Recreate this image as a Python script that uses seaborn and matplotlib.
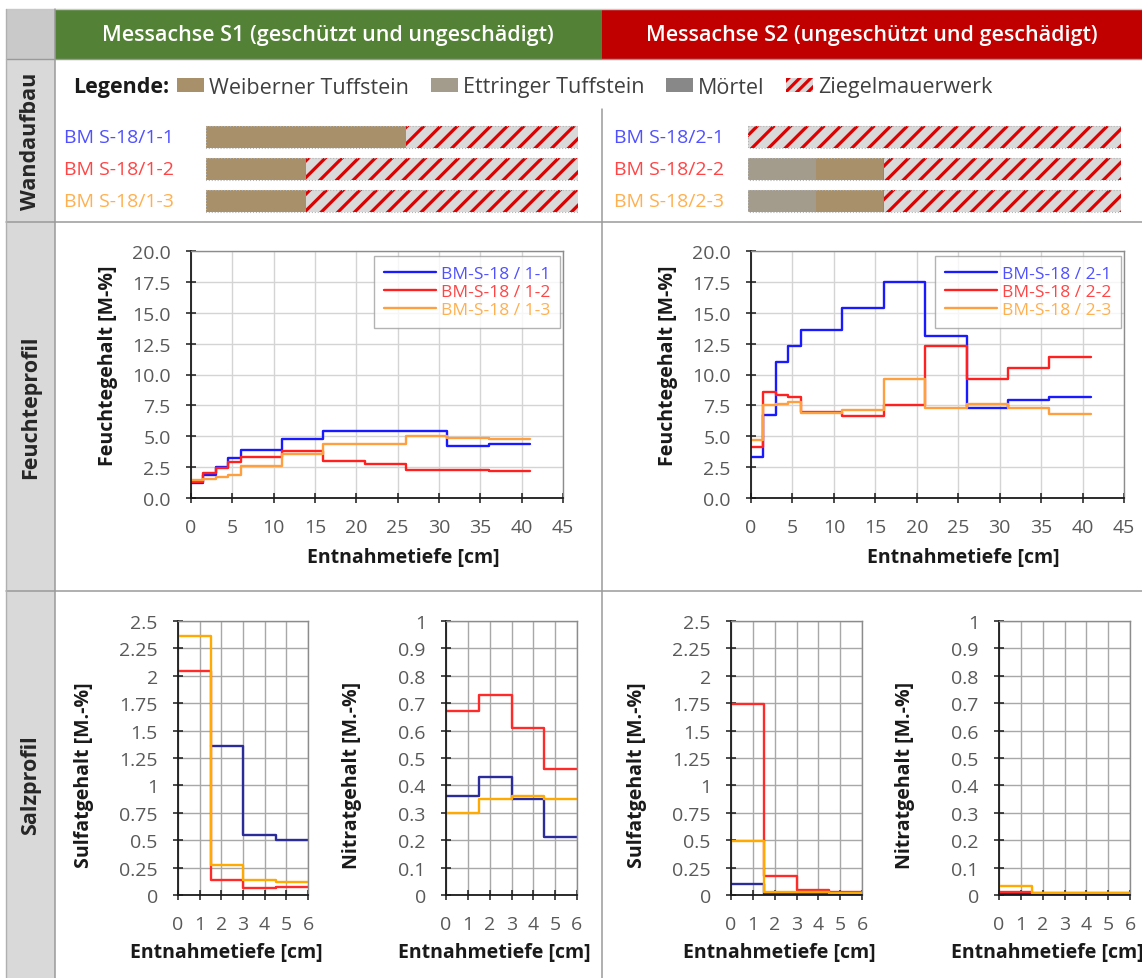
import numpy as np
import pandas as pd
import matplotlib
matplotlib.use("Agg")
import matplotlib.pyplot as plt
import seaborn as sns
from matplotlib.patches import Rectangle, Patch
from matplotlib.lines import Line2D
import matplotlib.transforms as mtransforms

# ---------------- data ----------------
depth_edges = [0, 1.5, 3, 4.5, 6, 11, 16, 21, 26, 31, 36, 41]
moist_s1_1 = [1.2, 1.9, 2.5, 3.2, 3.9, 4.8, 5.45, 5.4, 5.4, 4.2, 4.35]
moist_s1_2 = [1.3, 2.0, 2.4, 2.9, 3.35, 3.8, 3.0, 2.75, 2.25, 2.3, 2.15]
moist_s1_3 = [1.45, 1.55, 1.7, 1.85, 2.6, 3.6, 4.35, 4.35, 5.0, 4.85, 4.8]
moist_s2_1 = [3.3, 6.7, 11.0, 12.3, 13.6, 15.4, 17.5, 13.1, 7.3, 7.9, 8.2]
moist_s2_2 = [4.1, 8.6, 8.3, 8.2, 7.0, 6.6, 7.5, 12.3, 9.6, 10.5, 11.4]
moist_s2_3 = [4.7, 7.5, 7.6, 7.8, 6.9, 7.1, 9.6, 7.3, 7.6, 7.3, 6.8]
moist_labels_s1 = ["BM-S-18 / 1-1", "BM-S-18 / 1-2", "BM-S-18 / 1-3"]
moist_labels_s2 = ["BM-S-18 / 2-1", "BM-S-18 / 2-2", "BM-S-18 / 2-3"]

salt_edges = [0, 1.5, 3, 4.5, 6]
sulf_s1_1 = [np.nan, 1.36, 0.55, 0.50]
sulf_s1_2 = [2.04, 0.14, 0.06, 0.07]
sulf_s1_3 = [2.36, 0.27, 0.14, 0.12]
nitr_s1_1 = [0.36, 0.43, 0.35, 0.21]
nitr_s1_2 = [0.67, 0.73, 0.61, 0.46]
nitr_s1_3 = [0.30, 0.35, 0.36, 0.35]
sulf_s2_1 = [0.10, 0.01, 0.01, 0.01]
sulf_s2_2 = [1.74, 0.17, 0.05, 0.025]
sulf_s2_3 = [0.49, 0.03, 0.03, 0.02]
nitr_s2_1 = [0.002, 0.002, 0.002, 0.002]
nitr_s2_2 = [0.01, 0.006, 0.006, 0.006]
nitr_s2_3 = [0.032, 0.008, 0.008, 0.008]

wall_rows_s1 = ["BM S-18/1-1", "BM S-18/1-2", "BM S-18/1-3"]
wall_rows_s2 = ["BM S-18/2-1", "BM S-18/2-2", "BM S-18/2-3"]
# layer thickness [cm] in order: Ettringer, Weiberner, Moertel, Ziegel
s1_ettringer = [0, 0, 0]
s1_weiberner = [22, 11, 11]
s1_moertel = [0, 0, 0]
s1_ziegel = [19, 30, 30]
s2_ettringer = [0, 7.5, 7.5]
s2_weiberner = [0, 7.3, 7.3]
s2_moertel = [0, 0.2, 0.2]
s2_ziegel = [41, 26, 26]

legend_materials = ["Weiberner Tuffstein", "Ettringer Tuffstein", "Mörtel", "Ziegelmauerwerk"]
header_s1 = "Messachse S1 (geschützt und ungeschädigt)"
header_s2 = "Messachse S2 (ungeschützt und geschädigt)"
row_titles = ["Wandaufbau", "Feuchteprofil", "Salzprofil"]

# ---------------- style ----------------
sns.set_theme(style="white")
plt.rcParams["font.family"] = ["Open Sans", "DejaVu Sans"]
plt.rcParams["hatch.linewidth"] = 2.3

W, H = 1142, 979
fig = plt.figure(figsize=(W / 100, H / 100), dpi=100)
fig.patch.set_facecolor("white")

C_BLUE, C_RED, C_ORANGE = "#1a1aff", "#ff2020", "#ffa040"
C_NAVY, C_SRED, C_SORANGE = "#2b2b9a", "#ff2a2a", "#ffaa00"
T_BLUE, T_RED, T_ORANGE = "#5050ff", "#ff4545", "#ffb050"
WEIB, ETTR, MOERT, ZBG, ZRED = "#a8906a", "#a39b8c", "#888888", "#d9d9d9", "#dd0000"
TICKC = "#595959"
FS_TICK = 14
FS_LAB = 14


def axes_px(x0, y0, x1, y1, **kw):
    return fig.add_axes([x0 / W, 1 - y1 / H, (x1 - x0) / W, (y1 - y0) / H], **kw)


# ---------------- table background ----------------
bg = fig.add_axes([0, 0, 1, 1], zorder=-5)
bg.set_xlim(0, W)
bg.set_ylim(H, 0)
bg.axis("off")
bg.add_patch(Rectangle((6, 10), 49, 50, fc="#c9c9c9", ec="none"))
bg.add_patch(Rectangle((6, 60), 49, H - 60, fc="#d9d9d9", ec="none"))
bg.add_patch(Rectangle((55, 10), 547, 50, fc="#538135", ec="none"))
bg.add_patch(Rectangle((602, 10), W - 602, 50, fc="#c00000", ec="none"))
lc = "#9a9a9a"
bg.plot([6, W], [9.5, 9.5], color="#c8c8c8", lw=1)
bg.plot([6, W], [60, 60], color=lc, lw=1)
bg.plot([6, W], [222.5, 222.5], color=lc, lw=1.1)
bg.plot([6, W], [591.5, 591.5], color=lc, lw=1.1)
bg.plot([55, 55], [10, H], color=lc, lw=1.1)
bg.plot([602, 602], [110, H], color=lc, lw=1.1)
bg.plot([6, 6], [10, H], color="#b0b0b0", lw=1)

bg.text(328, 36, header_s1, color="white", ha="center", va="center", fontsize=15.5, weight="semibold")
bg.text(872, 36, header_s2, color="white", ha="center", va="center", fontsize=15.5, weight="semibold")
for title, yc in zip(row_titles, [141, 407, 785]):
    bg.text(31, yc, title, rotation=90, ha="center", va="center", fontsize=15.5,
            weight="bold", color="#262626")

# ---------------- wall structure ----------------
fig.text(73 / W, 1 - 88 / H, "Legende:", weight="bold", fontsize=15.5, va="center", ha="left",
         color="#1a1a1a")
mat_handles = [
    Patch(facecolor=WEIB, edgecolor="none"),
    Patch(facecolor=ETTR, edgecolor="none"),
    Patch(facecolor=MOERT, edgecolor="none"),
    Patch(facecolor=ZBG, edgecolor=ZRED, hatch="///", lw=0),
]
fig.legend(mat_handles, legend_materials, loc="center left", bbox_to_anchor=(177 / W, 1 - 88 / H),
           ncol=4, frameon=False, fontsize=15.5, handlelength=1.25, handleheight=0.6,
           handletextpad=0.25, columnspacing=1.0, labelcolor="#404040", borderaxespad=0,
           borderpad=0)

row_colors = [T_BLUE, T_RED, T_ORANGE]


def draw_wall(x0, x1, rows, ett, weib, moert, ziegel, label_x):
    ax = axes_px(x0, 122, x1, 218)
    ypos = np.arange(len(rows))
    left = np.zeros(len(rows))
    for vals, kw in [
        (ett, dict(color=ETTR, lw=0)),
        (weib, dict(color=WEIB, lw=0)),
        (moert, dict(color=MOERT, lw=0)),
        (ziegel, dict(facecolor=ZBG, edgecolor=ZRED, hatch="//", lw=0)),
    ]:
        vals = np.asarray(vals, dtype=float)
        ax.barh(ypos, vals, left=left, height=0.7, **kw)
        left = left + vals
    ax.barh(ypos, left, height=0.7, fill=False, edgecolor="#b5b5b5", lw=0.8, ls=":")
    ax.set_xlim(0, left.max())
    ax.set_ylim(len(rows) - 0.5, -0.5)
    ax.axis("off")
    trans = mtransforms.blended_transform_factory(fig.transFigure, ax.transData)
    for i, (name, c) in enumerate(zip(rows, row_colors)):
        fig.text(label_x / W, i, name, transform=trans, color=c, fontsize=14, va="center", ha="left")


draw_wall(206, 578, wall_rows_s1, s1_ettringer, s1_weiberner, s1_moertel, s1_ziegel, 64)
draw_wall(748, 1121, wall_rows_s2, s2_ettringer, s2_weiberner, s2_moertel, s2_ziegel, 614)


# ---------------- helpers for step charts ----------------
def draw_steps(ax, edges, values, color, lw):
    y = list(values) + [values[-1]]
    df = pd.DataFrame({"x": edges, "y": y}).dropna()
    sns.lineplot(data=df, x="x", y="y", ax=ax, color=color, lw=lw, drawstyle="steps-post",
                 estimator=None, sort=False, legend=False)


def style_axes(ax, xlim, xticks, ylim, yticks, ylabels, gridc, xlabel, ylabel, xl_pos, yl_pos):
    ax.set_xlim(*xlim)
    ax.set_ylim(*ylim)
    ax.set_xticks(xticks)
    ax.set_yticks(yticks)
    ax.set_yticklabels(ylabels)
    ax.set_xticklabels([f"{t:g}" for t in xticks])
    ax.grid(True, color=gridc, lw=1)
    ax.set_axisbelow(True)
    for s in ["left", "bottom"]:
        ax.spines[s].set_color("#1a1a1a")
        ax.spines[s].set_linewidth(1.3)
    for s in ["top", "right"]:
        ax.spines[s].set_color("#8c8c8c")
        ax.spines[s].set_linewidth(1.0)
    ax.tick_params(axis="both", direction="inout", length=7, width=1.1, color="#1a1a1a",
                   labelcolor=TICKC, labelsize=FS_TICK, pad=11, left=True, bottom=True)
    ax.set_xlabel(xlabel, fontsize=FS_LAB, weight="bold", color="#1a1a1a")
    ax.set_ylabel(ylabel, fontsize=FS_LAB, weight="bold", color="#1a1a1a")
    ax.xaxis.set_label_coords(*xl_pos)
    ax.yaxis.set_label_coords(*yl_pos)
    ax.xaxis.label.set_va("center")
    ax.yaxis.label.set_va("center")


# ---------------- moisture profiles ----------------
moist_sets = [
    ((191, 563), [moist_s1_1, moist_s1_2, moist_s1_3], moist_labels_s1),
    ((751, 1124), [moist_s2_1, moist_s2_2, moist_s2_3], moist_labels_s2),
]
yt = np.arange(0, 20.01, 2.5)
for (x0, x1), series, labels in moist_sets:
    ax = axes_px(x0, 252, x1, 499)
    for vals, c in zip(series, [C_BLUE, C_RED, C_ORANGE]):
        draw_steps(ax, depth_edges, vals, c, 1.7)
    style_axes(ax, (0, 45), list(range(0, 46, 5)), (0, 20), yt, [f"{v:.1f}" for v in yt],
               "#d4d4d4", "Entnahmetiefe [cm]", "Feuchtegehalt [M-%]",
               (0.57, -0.24), (-0.223, 0.54))
    handles = [Line2D([], [], color=c, lw=1.7) for c in [C_BLUE, C_RED, C_ORANGE]]
    leg = ax.legend(handles, labels, loc="upper right", bbox_to_anchor=(1 - 3 / 372, 1 - 5 / 247),
                    frameon=True, fancybox=False, fontsize=12.5, handlelength=3.0,
                    handletextpad=0.3, labelspacing=0.12, borderaxespad=0, borderpad=0.55,
                    labelcolor=[T_BLUE, T_RED, T_ORANGE])
    leg.get_frame().set_edgecolor("#a0a0a0")
    leg.get_frame().set_linewidth(1.0)

# ---------------- salt profiles ----------------
st = np.arange(0, 2.51, 0.25)
nt = np.arange(0, 1.001, 0.1)
nt_labels = ["0"] + [f"{v:.1f}" for v in nt[1:-1]] + ["1"]
salt_sets = [
    ((178, 308), [sulf_s1_1, sulf_s1_2, sulf_s1_3], "sulf"),
    ((446, 577), [nitr_s1_1, nitr_s1_2, nitr_s1_3], "nitr"),
    ((731, 862), [sulf_s2_1, sulf_s2_2, sulf_s2_3], "sulf"),
    ((999, 1130), [nitr_s2_1, nitr_s2_2, nitr_s2_3], "nitr"),
]
for (x0, x1), series, kind in salt_sets:
    ax = axes_px(x0, 622, x1, 896)
    for vals, c in zip(series, [C_NAVY, C_SRED, C_SORANGE]):
        draw_steps(ax, salt_edges, vals, c, 1.7)
    if kind == "sulf":
        style_axes(ax, (0, 6), list(range(0, 7)), (0, 2.5), st, [f"{v:g}" for v in st],
                   "#a8a8a8", "Entnahmetiefe [cm]", "Sulfatgehalt [M.-%]",
                   (0.37, -0.208), (-0.72, 0.44))
    else:
        style_axes(ax, (0, 6), list(range(0, 7)), (0, 1.0), nt, nt_labels,
                   "#a8a8a8", "Entnahmetiefe [cm]", "Nitratgehalt [M.-%]",
                   (0.37, -0.208), (-0.72, 0.44))

fig.savefig("out.png", dpi=100, facecolor="white")
